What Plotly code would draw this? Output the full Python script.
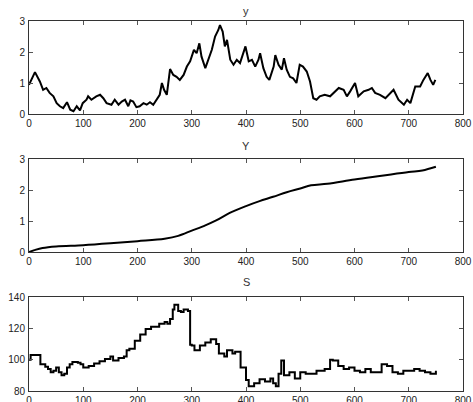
import plotly.graph_objects as go

# ---- data: y (top panel) ----
y_x = [0, 4, 11, 20, 26, 32, 38, 45, 51, 57, 63, 70, 76, 82, 88, 94, 99, 106, 109, 115,
       124, 131, 137, 143, 152, 158, 165, 171, 177, 183, 187, 192, 198, 204, 211, 217,
       223, 229, 235, 241, 245, 249, 254, 260, 266, 272, 278, 285, 291, 297, 304, 309,
       314, 318, 325, 331, 337, 343, 349, 352, 357, 361, 365, 371, 377, 383, 389, 399,
       405, 411, 417, 423, 426, 432, 438, 443, 451, 454, 460, 466, 470, 475, 481, 487,
       493, 499, 505, 512, 518, 524, 530, 536, 545, 555, 564, 571, 580, 586, 592, 601,
       607, 617, 626, 632, 638, 647, 657, 666, 672, 681, 691, 697, 703, 712, 721, 727,
       735, 740, 745, 749]
y_v = [0.94, 1.1, 1.35, 1.05, 0.78, 0.84, 0.68, 0.57, 0.35, 0.25, 0.19, 0.38, 0.14, 0.09,
       0.25, 0.12, 0.35, 0.46, 0.57, 0.46, 0.57, 0.62, 0.51, 0.35, 0.3, 0.46, 0.3, 0.4,
       0.46, 0.25, 0.44, 0.4, 0.22, 0.25, 0.35, 0.3, 0.38, 0.3, 0.46, 0.62, 1.0, 0.78,
       0.62, 1.45, 1.26, 1.2, 1.1, 1.26, 1.53, 1.7, 2.07, 1.96, 2.28, 1.85, 1.48, 1.75,
       2.07, 2.5, 2.71, 2.87, 2.66, 2.18, 2.39, 1.75, 1.59, 1.75, 1.64, 2.18, 1.7, 1.75,
       1.53, 1.75, 1.96, 1.48, 1.2, 1.1, 1.53, 1.9, 1.59, 1.43, 1.8, 1.43, 1.2, 1.15,
       1.0, 1.59, 1.53, 1.37, 1.05, 0.51, 0.46, 0.57, 0.62, 0.57, 0.73, 0.84, 0.78, 0.57,
       0.73, 1.0, 0.57, 0.73, 0.78, 0.84, 0.68, 0.62, 0.51, 0.68, 0.78, 0.46, 0.3, 0.46,
       0.35, 0.89, 0.89, 1.1, 1.32, 1.1, 0.94, 1.1]

# ---- data: Y (middle panel) ----
Y_x = [0, 10, 25, 50, 100, 150, 200, 250, 275, 300, 325, 345, 370, 400, 425, 450, 475,
       500, 520, 550, 600, 650, 700, 725, 750]
Y_v = [0.0, 0.06, 0.13, 0.18, 0.22, 0.28, 0.35, 0.43, 0.52, 0.69, 0.86, 1.02, 1.26, 1.48,
       1.64, 1.78, 1.93, 2.05, 2.15, 2.2, 2.34, 2.46, 2.58, 2.63, 2.75]

# ---- data: S (bottom panel) ----
S_x = [0, 3, 21, 30, 35, 40, 45, 50, 55, 60, 65, 70, 75, 80, 90, 95, 100, 110, 120, 130,
       140, 150, 155, 165, 175, 180, 185, 195, 205, 215, 225, 240, 250, 255, 260, 265,
       268, 275, 280, 285, 293, 297, 300, 305, 315, 325, 335, 345, 350, 360, 365, 375,
       380, 390, 400, 405, 415, 425, 435, 445, 450, 455, 460, 465, 470, 480, 490, 500,
       510, 520, 530, 545, 555, 560, 570, 580, 590, 600, 610, 620, 630, 640, 650, 660,
       670, 680, 690, 700, 710, 720, 730, 740, 750]
S_v = [100, 103, 97, 95.5, 94, 92, 93, 95, 92, 90, 91, 95, 97, 98.5, 98, 97, 95, 96, 97.5,
       99, 100.5, 102, 99.5, 101, 102, 106, 107, 112, 116, 119.5, 121, 123, 124, 123, 126,
       132, 135, 131, 130.5, 132, 131, 109.5, 109, 106, 109, 111, 113, 110, 104, 102, 106,
       104, 105, 95, 87, 83, 85, 87.5, 86, 88, 85, 83, 91, 99.5, 90, 92, 88, 92, 91, 91,
       93, 94, 100, 99.5, 96, 94, 95, 93, 92, 94, 92, 92, 97, 96, 92, 91, 93, 93, 94, 93,
       92, 91, 93]

x_ticks = [0, 100, 200, 300, 400, 500, 600, 700, 800]

W, H = 473, 402
x_dom = [29 / W, 463 / W]
doms = [
    [(H - 114) / H, (H - 21) / H],
    [(H - 252) / H, (H - 159) / H],
    [(H - 391) / H, (H - 297) / H],
]

fig = go.Figure()
fig.add_trace(go.Scatter(x=y_x, y=y_v, mode="lines", line=dict(color="black", width=2),
                         xaxis="x", yaxis="y", showlegend=False))
fig.add_trace(go.Scatter(x=Y_x, y=Y_v, mode="lines", line=dict(color="black", width=2, shape="spline"),
                         xaxis="x2", yaxis="y2", showlegend=False))
fig.add_trace(go.Scatter(x=S_x, y=S_v, mode="lines", line=dict(color="black", width=2, shape="hv"),
                         xaxis="x3", yaxis="y3", showlegend=False))

font = dict(family="Liberation Sans, Arial, sans-serif", size=10, color="#222")
ax_common = dict(showline=True, linecolor="#333", linewidth=1, mirror="ticks",
                 ticks="inside", ticklen=4, tickcolor="#555", showgrid=False,
                 zeroline=False, tickfont=font, automargin=False)

yranges = [[0, 3], [0, 3], [80, 140]]
yticks = [[0, 1, 2, 3], [0, 1, 2, 3], [80, 100, 120, 140]]
for i in range(3):
    sx = "" if i == 0 else str(i + 1)
    fig.update_layout(**{
        "xaxis" + sx: dict(domain=x_dom, range=[0, 800], tickvals=x_ticks,
                           anchor="y" + sx, ticklabelstandoff=0, **ax_common),
        "yaxis" + sx: dict(domain=doms[i], range=yranges[i], tickvals=yticks[i],
                           anchor="x" + sx, ticklabelstandoff=1, **ax_common),
    })

titles = ["y", "Y", "S"]
title_y = [11, 146, 282]
for t, ty in zip(titles, title_y):
    fig.add_annotation(text=t, x=0.5 * (x_dom[0] + x_dom[1]), y=(H - ty) / H,
                       xref="paper", yref="paper", showarrow=False,
                       xanchor="center", yanchor="middle",
                       font=dict(family="Liberation Sans, Arial, sans-serif", size=11, color="#333"))

fig.update_layout(width=W, height=H, margin=dict(l=0, r=0, t=0, b=0),
                  paper_bgcolor="white", plot_bgcolor="white")
fig.write_html("out.html", config={"displayModeBar": False},
               post_script="document.body.style.margin='0';document.body.style.overflow='hidden';")
